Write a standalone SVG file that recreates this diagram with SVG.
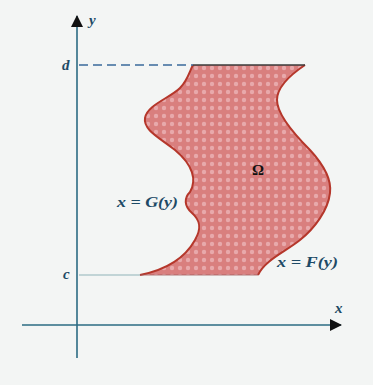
<svg xmlns="http://www.w3.org/2000/svg" width="373" height="385" viewBox="0 0 373 385">
<defs>
<pattern id="dots" width="8" height="8" patternUnits="userSpaceOnUse">
<rect width="8" height="8" fill="#d97f7e"/>
<circle cx="4" cy="4" r="2.2" fill="#e8a9ab"/>
</pattern>
<marker id="arr" viewBox="0 0 12 12" refX="11" refY="6" markerWidth="12" markerHeight="12" markerUnits="userSpaceOnUse" orient="auto">
<path d="M0,0 L12,6 L0,12 Z" fill="#111"/>
</marker>
</defs>
<style>
.lbl{font-family:"Liberation Serif",serif;font-weight:bold;font-style:italic;font-size:15px;fill:#1d4a66}
.axis{stroke:#2b6b83;stroke-width:1.6;fill:none}
</style>
<rect width="373" height="385" fill="#f3f5f4"/>
<g id="region">
<path d="M193,65 L305,65 C290,75 277,87 277,100 C277,115 295,135 310,150 C322,163 332,178 330,193 C328,210 315,228 300,240 C285,252 265,260 258,275 L140,275 C165,270 185,258 195,240 C202,228 200,220 192,213 C184,206 184,198 190,192 C197,180 193,165 175,150 C160,138 143,130 145,118 C147,105 170,98 180,88 C188,80 190,70 193,65 Z" fill="url(#dots)" stroke="none"/>
<path d="M305,65 C290,75 277,87 277,100 C277,115 295,135 310,150 C322,163 332,178 330,193 C328,210 315,228 300,240 C285,252 265,260 258,275" fill="none" stroke="#b5372b" stroke-width="2"/>
<path d="M140,275 C165,270 185,258 195,240 C202,228 200,220 192,213 C184,206 184,198 190,192 C197,180 193,165 175,150 C160,138 143,130 145,118 C147,105 170,98 180,88 C188,80 190,70 193,65" fill="none" stroke="#b5372b" stroke-width="2"/>
<line x1="193" y1="65" x2="305" y2="65" stroke="#3a3a3a" stroke-width="1.5"/>
<line x1="140" y1="275" x2="258" y2="275" stroke="#a05a5a" stroke-width="0.8"/>
<text x="258" y="175" font-family="Liberation Serif, serif" font-weight="bold" font-size="15" fill="#111" text-anchor="middle">Ω</text>
</g>
<g id="connectors">
<line class="axis" x1="77" y1="358" x2="77" y2="16" marker-end="url(#arr)"/>
<line class="axis" x1="22" y1="325" x2="341" y2="325" marker-end="url(#arr)"/>
<line x1="79" y1="65" x2="193" y2="65" stroke="#3a6a9a" stroke-width="1.5" stroke-dasharray="9,5"/>
<line x1="79" y1="275" x2="140" y2="275" stroke="#8fb3b8" stroke-width="1"/>
</g>
<g id="labels">
<text class="lbl" x="89" y="25">y</text>
<text class="lbl" x="335" y="313">x</text>
<text class="lbl" x="62" y="70">d</text>
<text class="lbl" x="63" y="279">c</text>
<text class="lbl" x="117" y="207" textLength="61" lengthAdjust="spacingAndGlyphs">x = G(y)</text>
<text class="lbl" x="277" y="267" textLength="61" lengthAdjust="spacingAndGlyphs">x = F(y)</text>
</g>
</svg>
